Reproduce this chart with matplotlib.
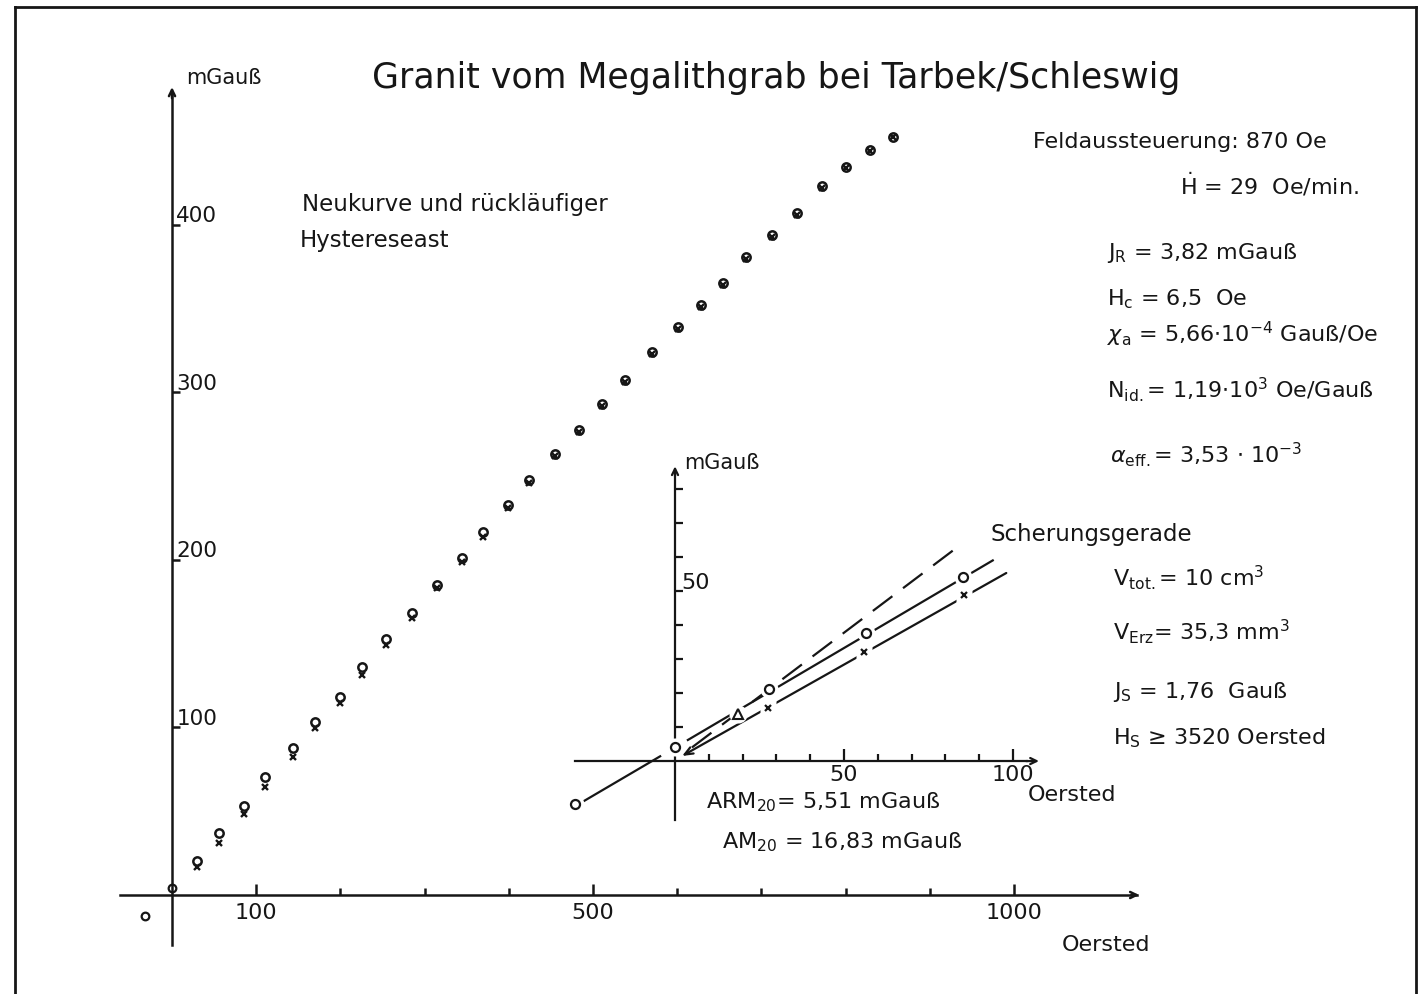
import numpy as np
import matplotlib
matplotlib.use("Agg")
from matplotlib import pyplot as plt
from matplotlib.lines import Line2D

plt.rcParams['font.family'] = ['DejaVu Sans']
plt.rcParams['mathtext.fontset'] = 'dejavusans'

# main curve: field (Oe), Neukurve (circles), return branch (crosses), mGauss
H_main = [29.7, 55.8, 85.5, 110.5, 143.7, 169.8, 199.5, 225.7, 254.2, 285.0,
          314.7, 344.4, 369.4, 399.0, 424.0, 454.9, 483.4, 510.7, 538.0, 570.1,
          601.0, 628.3, 654.4, 681.7, 712.6, 742.3, 772.0, 800.5, 829.0, 856.3]
J_neu = [20.3, 37.0, 53.1, 70.4, 87.8, 103.3, 118.2, 136.1, 152.8, 168.4,
         185.1, 201.2, 216.7, 232.8, 247.8, 263.3, 277.6, 293.1, 307.5, 324.2,
         339.1, 352.2, 365.4, 380.9, 394.0, 407.2, 423.3, 434.6, 444.8, 452.5]
J_rueck = [16.7, 31.0, 48.4, 64.5, 82.4, 99.7, 114.6, 131.3, 149.3, 165.4,
           183.3, 198.8, 213.7, 231.0, 246.0, 262.0, 276.4, 292.0, 306.3, 323.0,
           338.0, 351.0, 364.0, 379.7, 393.0, 406.0, 422.0, 434.0, 444.0, 452.5]
# remanence points of the return branch
H_rem = [-32.0, 0.0]
J_rem = [-12.5, 4.2]

# inset (Scherungsgerade), Oe / mGauss
H_circ = [-29.6, 0.0, 27.8, 56.5, 85.2]
J_circ = [-12.6, 4.1, 21.1, 37.6, 54.0]
H_cross = [27.5, 56.0, 85.4]
J_cross = [15.6, 32.0, 48.9]
H_tri = [18.6]
J_tri = [13.8]
line_circ_a = ([-29.6, -4.4], [-13.3, 1.4])
line_circ_b = ([3.8, 94.0], [6.2, 59.0])
line_cross = ([98.0, 2.1], [55.3, 1.5])
line_dash = ([5.0, 83.0], [4.0, 62.5])

main_xticks = [100, 200, 300, 400, 500, 600, 700, 800, 900, 1000]
main_xlabels = {100: '100', 500: '500', 1000: '1000'}
main_yticks = [100, 200, 300, 400]
inset_xticks = [10, 20, 30, 40, 50, 60, 70, 80, 90, 100]
inset_yticks = [10, 20, 30, 40, 50, 60, 70, 80]

W, H = 1419, 994
fig = plt.figure(figsize=(W / 100, H / 100), dpi=100)
fig.patch.set_facecolor('white')
ink = '#161616'


def put(x, y, s, size=16, **kw):
    fig.text(x / W, 1 - y / H, s, fontsize=size, color=ink,
             va=kw.pop('va', 'center'), ha=kw.pop('ha', 'left'), **kw)


# frame
for xs, ys in [((15, 15), (7, 994)), ((15, 1416), (7, 7)), ((1416, 1416), (7, 994))]:
    fig.add_artist(Line2D([x / W for x in xs], [1 - y / H for y in ys],
                          color=ink, lw=2.0))

# ---- main plot
ax = fig.add_axes([0, 0, 1, 1])
ax.patch.set_alpha(0)
ax.set_xlim(-204.3, 1481)
ax.set_ylim(-59.1, 534.3)
for s in ['top', 'right']:
    ax.spines[s].set_visible(False)
ax.spines['left'].set_position(('data', 0))
ax.spines['bottom'].set_position(('data', 0))
ax.spines['left'].set_bounds(-30, 478)
ax.spines['bottom'].set_bounds(-62, 1146)
for s in ['left', 'bottom']:
    ax.spines[s].set_linewidth(1.8)
    ax.spines[s].set_color(ink)

ax.set_xticks([t for t in main_xticks if t in main_xlabels],
              [main_xlabels[t] for t in main_xticks if t in main_xlabels])
ax.set_xticks([t for t in main_xticks if t not in main_xlabels], minor=True)
ax.tick_params(axis='x', which='major', direction='in', length=8, width=1.8,
               labelsize=16, pad=6, colors=ink)
ax.tick_params(axis='x', which='minor', direction='in', length=5, width=1.8, colors=ink)
ax.set_yticks(main_yticks)
ax.tick_params(axis='y', direction='in', length=6, width=1.8, labelleft=False, colors=ink)
for v in main_yticks:
    ax.text(5, v + 1.5, str(v), fontsize=15.5, va='baseline', ha='left', color=ink)

ax.annotate('', xy=(0, 484), xytext=(0, 474),
            arrowprops=dict(arrowstyle='->,head_length=0.45,head_width=0.22',
                            lw=1.8, color=ink))
ax.annotate('', xy=(1152, 0), xytext=(1136, 0),
            arrowprops=dict(arrowstyle='->,head_length=0.45,head_width=0.22',
                            lw=1.8, color=ink))

ax.plot(H_main, J_neu, 'o', ms=6, mfc='none', mec=ink, mew=1.8)
ax.plot(H_main, J_rueck, 'x', ms=4.5, mec=ink, mew=1.7)
ax.plot(H_rem, J_rem, 'o', ms=5.5, mfc='none', mec=ink, mew=1.6)

# ---- inset
ax2 = fig.add_axes([0, 0, 1, 1])
ax2.patch.set_alpha(0)
ax2.set_xlim(-199.7, 220.1)
ax2.set_ylim(-68.5, 223.8)
for s in ['top', 'right']:
    ax2.spines[s].set_visible(False)
ax2.spines['left'].set_position(('data', 0))
ax2.spines['bottom'].set_position(('data', 0))
ax2.spines['left'].set_bounds(-17.4, 84)
ax2.spines['bottom'].set_bounds(-29.6, 104)
for s in ['left', 'bottom']:
    ax2.spines[s].set_linewidth(1.6)
    ax2.spines[s].set_color(ink)
ax2.set_xticks([50, 100], ['50', '100'])
ax2.set_xticks([t for t in inset_xticks if t % 50], minor=True)
ax2.tick_params(axis='x', which='major', direction='in', length=9, width=1.6,
                labelsize=16, pad=3, colors=ink)
ax2.tick_params(axis='x', which='minor', direction='in', length=5, width=1.6, colors=ink)
ax2.set_yticks(inset_yticks)
ax2.tick_params(axis='y', direction='in', length=6, width=1.6, labelleft=False, colors=ink)
ax2.text(2.0, 50.5, '50', fontsize=16, va='baseline', ha='left', color=ink)
ax2.annotate('', xy=(0, 87.5), xytext=(0, 83),
             arrowprops=dict(arrowstyle='->,head_length=0.45,head_width=0.22',
                             lw=1.6, color=ink))
ax2.annotate('', xy=(108.5, 0), xytext=(103, 0),
             arrowprops=dict(arrowstyle='->,head_length=0.45,head_width=0.22',
                             lw=1.6, color=ink))

ax2.plot(*line_circ_a, color=ink, lw=1.6)
ax2.plot(*line_circ_b, color=ink, lw=1.6)
ax2.annotate('', xy=(line_cross[0][1], line_cross[1][1]),
             xytext=(line_cross[0][0], line_cross[1][0]),
             arrowprops=dict(arrowstyle='->,head_length=0.6,head_width=0.25',
                             lw=1.6, color=ink, shrinkA=0, shrinkB=0))
ax2.plot(*line_dash, color=ink, lw=1.6, linestyle=(0, (11, 6)))
# white gaps round the markers
ax2.plot(H_circ, J_circ, 'o', ms=13, color='white', mec='none', zorder=3)
ax2.plot(H_cross, J_cross, 's', ms=11, color='white', mec='none', zorder=3)
ax2.plot(H_tri, J_tri, 'o', ms=13, color='white', mec='none', zorder=3)
ax2.plot(H_circ, J_circ, 'o', ms=6.5, mfc='white', mec=ink, mew=1.6, zorder=4)
ax2.plot(H_cross, J_cross, 'x', ms=5, mec=ink, mew=1.6, zorder=4)
ax2.plot(H_tri, J_tri, '^', ms=7, mfc='white', mec=ink, mew=1.5, zorder=4)

# ---- texts
put(186, 78, 'mGauß', 15)
put(372, 78, 'Granit vom Megalithgrab bei Tarbek/Schleswig', 25)
put(302, 204, 'Neukurve und rückläufiger', 16.5)
put(300, 241, 'Hystereseast', 16.5)
put(1033, 142, 'Feldaussteuerung: 870 Oe', 16)
put(1180, 185, r'$\dot{\mathrm{H}}$ = 29  Oe/min.', 16)
put(1107, 253, r'J$_\mathrm{R}$ = 3,82 mGauß', 16)
put(1107, 299, r'H$_\mathrm{c}$ = 6,5  Oe', 16)
put(1107, 334, r'$\chi_\mathrm{a}$ = 5,66$\cdot$10$^{-4}$ Gauß/Oe', 16)
put(1107, 390, r'N$_\mathrm{id.}$= 1,19$\cdot$10$^3$ Oe/Gauß', 16)
put(1110, 455, r'$\alpha_\mathrm{eff.}$= 3,53 $\cdot$ 10$^{-3}$', 16)
put(990, 534, 'Scherungsgerade', 16.5)
put(1113, 578, r'V$_\mathrm{tot.}$= 10 cm$^3$', 16)
put(1113, 632, r'V$_\mathrm{Erz}$= 35,3 mm$^3$', 16)
put(1113, 692, r'J$_\mathrm{S}$ = 1,76  Gauß', 16)
put(1113, 738, r'H$_\mathrm{S}$ ≥ 3520 Oersted', 16)
put(684, 463, 'mGauß', 15)
put(1028, 795, 'Oersted', 16)
put(706, 802, r'ARM$_{20}$= 5,51 mGauß', 16)
put(722, 842, r'AM$_{20}$ = 16,83 mGauß', 16)
put(1062, 945, 'Oersted', 16)

fig.savefig('out.png', dpi=100, facecolor='white')
